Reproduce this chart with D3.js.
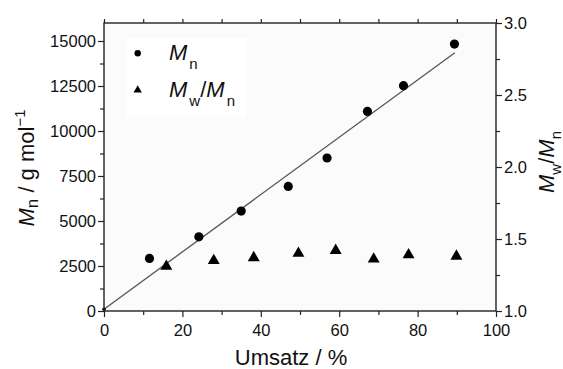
<!DOCTYPE html>
<html>
<head>
<meta charset="utf-8">
<script src="https://cdn.jsdelivr.net/npm/d3@7"></script>
<style>
  body { margin: 0; background: #fff; }
  text { font-family: Arial, "Liberation Sans", sans-serif; fill: #111; }
</style>
</head>
<body>
<div id="chart"></div>
<script>
// conversion (%) and molar mass data
const conv = [11.6, 24.2, 35.0, 47.0, 56.9, 67.2, 76.4, 89.4];
const mn = [2920, 4120, 5550, 6920, 8500, 11090, 12520, 14830];
const convPdi = [15.9, 28.0, 38.2, 49.6, 59.1, 68.8, 77.7, 89.9];
const pdi = [1.31, 1.35, 1.37, 1.40, 1.42, 1.36, 1.39, 1.38];
// fitted line
const fitX = [0, 89.5];
const fitY = [100, 14350];
const xTicks = [0, 20, 40, 60, 80, 100];
const yTicks = [0, 2500, 5000, 7500, 10000, 12500, 15000];
const y2Ticks = [1.0, 1.5, 2.0, 2.5, 3.0];

const W = 563, H = 369;
const m = {left: 104, right: 67, top: 23, bottom: 58};

const svg = d3.select('#chart').append('svg')
  .attr('width', W)
  .attr('height', H);

const x = d3.scaleLinear().domain([0, 100]).range([m.left, W - m.right]);
const y = d3.scaleLinear().domain([0, 16000]).range([H - m.bottom, m.top]);
const y2 = d3.scaleLinear().domain([1, 3]).range([H - m.bottom, m.top]);

// plot background
svg.append('rect')
  .attr('x', x(0)).attr('y', y(16000))
  .attr('width', x(100) - x(0)).attr('height', y(0) - y(16000))
  .attr('fill', '#fbfbfb');

// legend box
svg.append('rect')
  .attr('x', 126).attr('y', 38)
  .attr('width', 120).attr('height', 79)
  .attr('fill', '#fff');

// fit line
svg.append('line')
  .attr('x1', x(fitX[0])).attr('y1', y(fitY[0]))
  .attr('x2', x(fitX[1])).attr('y2', y(fitY[1]))
  .attr('stroke', '#555')
  .attr('stroke-width', 1.3);
svg.append('circle')
  .attr('cx', x(fitX[0])).attr('cy', y(fitY[0]))
  .attr('r', 1.8).attr('fill', '#000');

// Mn points
svg.append('g').selectAll('circle')
  .data(conv)
  .enter().append('circle')
  .attr('cx', d => x(d))
  .attr('cy', (d, i) => y(mn[i]))
  .attr('r', 4.6)
  .attr('fill', '#000');

// PDI points
const tri = d3.symbol().type(d3.symbolTriangle).size(62);
svg.append('g').selectAll('path')
  .data(convPdi)
  .enter().append('path')
  .attr('d', tri)
  .attr('transform', (d, i) => `translate(${x(d)},${y2(pdi[i])})`)
  .attr('fill', '#000');

// axes
const tickSize = 6, minorSize = 4;
const xAxis = svg.append('g').attr('transform', `translate(0,${y(0)})`)
  .call(d3.axisBottom(x).tickValues(xTicks).tickSize(tickSize).tickFormat(d3.format('d')));
svg.append('g').attr('transform', `translate(0,${y(0)})`)
  .call(d3.axisBottom(x).tickValues([10, 30, 50, 70, 90]).tickSize(minorSize).tickFormat(''));
svg.append('g').attr('transform', `translate(0,${y(16000)})`)
  .call(d3.axisBottom(x).tickValues(d3.range(0, 101, 10)).tickSize(-4).tickFormat(''));

const yAxis = svg.append('g').attr('transform', `translate(${x(0)},0)`)
  .call(d3.axisLeft(y).tickValues(yTicks).tickSize(tickSize).tickFormat(d3.format('d')));
svg.append('g').attr('transform', `translate(${x(0)},0)`)
  .call(d3.axisLeft(y).tickValues([1250, 3750, 6250, 8750, 11250, 13750]).tickSize(minorSize).tickFormat(''));

const y2Axis = svg.append('g').attr('transform', `translate(${x(100)},0)`)
  .call(d3.axisRight(y2).tickValues(y2Ticks).tickSize(tickSize).tickFormat(d3.format('.1f')));
svg.append('g').attr('transform', `translate(${x(100)},0)`)
  .call(d3.axisRight(y2).tickValues([1.25, 1.75, 2.25, 2.75]).tickSize(minorSize).tickFormat(''));

svg.selectAll('.domain').remove();
svg.selectAll('.tick line').attr('stroke', '#222').attr('stroke-width', 1.2);
svg.selectAll('.tick text').style('font-size', '16.5px').attr('fill', '#111');
xAxis.selectAll('.tick text').attr('dy', '0.95em');
yAxis.selectAll('.tick text').attr('x', -8);
y2Axis.selectAll('.tick text').attr('x', 8);

// frame
svg.append('rect')
  .attr('x', x(0)).attr('y', y(16000))
  .attr('width', x(100) - x(0)).attr('height', y(0) - y(16000))
  .attr('fill', 'none')
  .attr('stroke', '#222')
  .attr('stroke-width', 1.4);

// axis titles
svg.append('text')
  .attr('x', 291).attr('y', 365)
  .attr('text-anchor', 'middle')
  .style('font-size', '22px')
  .text('Umsatz / %');

const yl = svg.append('text')
  .attr('transform', 'translate(34,168) rotate(-90)')
  .attr('text-anchor', 'middle')
  .style('font-size', '22px');
yl.append('tspan').attr('font-style', 'italic').text('M');
yl.append('tspan').attr('dy', 4).style('font-size', '17px').text('n');
yl.append('tspan').attr('dy', -4).text(' / g mol');
yl.append('tspan').attr('dy', -9).style('font-size', '15px').text('\u22121');

const yr = svg.append('text')
  .attr('transform', 'translate(554,162) rotate(-90)')
  .attr('text-anchor', 'middle')
  .style('font-size', '22px');
yr.append('tspan').attr('font-style', 'italic').text('M');
yr.append('tspan').attr('dy', 7).style('font-size', '15px').text('w');
yr.append('tspan').attr('dy', -7).text('/');
yr.append('tspan').attr('font-style', 'italic').text('M');
yr.append('tspan').attr('dy', 7).style('font-size', '15px').text('n');

// legend
svg.append('circle').attr('cx', 137.7).attr('cy', 53.3).attr('r', 3.2).attr('fill', '#000');
svg.append('path')
  .attr('d', d3.symbol().type(d3.symbolTriangle).size(30))
  .attr('transform', 'translate(137.7,90)')
  .attr('fill', '#000');

const l1 = svg.append('text').attr('x', 169).attr('y', 60).style('font-size', '22px');
l1.append('tspan').attr('font-style', 'italic').text('M');
l1.append('tspan').attr('dy', 9).attr('dx', 2).style('font-size', '15px').text('n');

const l2 = svg.append('text').attr('x', 169).attr('y', 96.7).style('font-size', '22px');
l2.append('tspan').attr('font-style', 'italic').text('M');
l2.append('tspan').attr('dy', 9).attr('dx', 2).style('font-size', '15px').text('w');
l2.append('tspan').attr('dy', -9).text('/');
l2.append('tspan').attr('font-style', 'italic').text('M');
l2.append('tspan').attr('dy', 9).attr('dx', 2).style('font-size', '15px').text('n');
</script>
</body>
</html>
